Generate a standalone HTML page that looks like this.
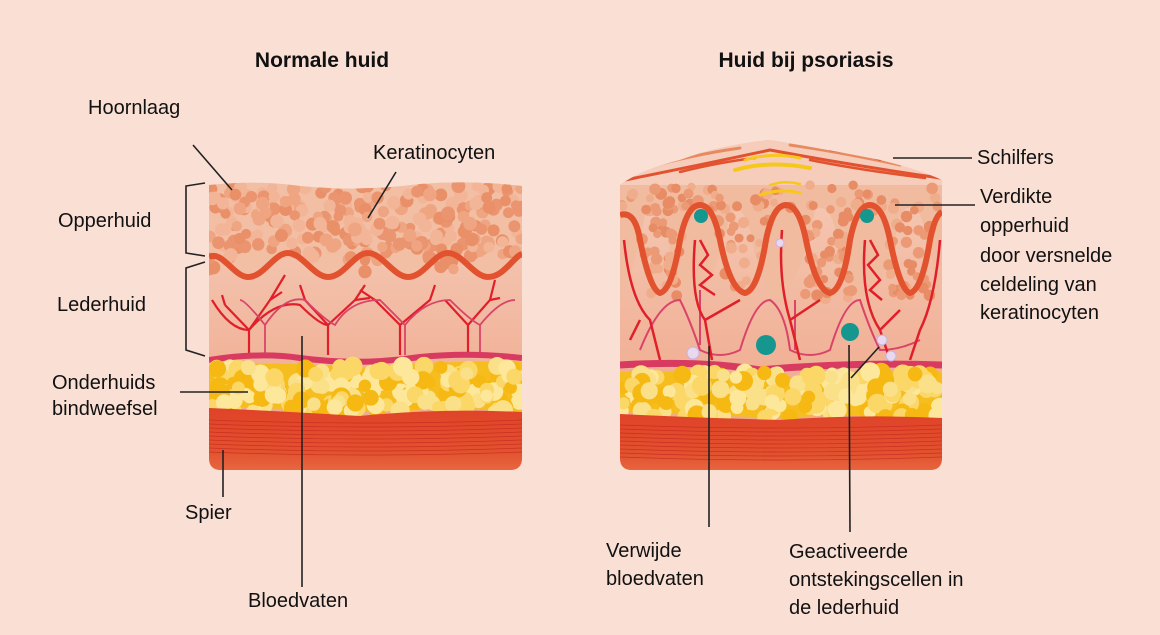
<!DOCTYPE html>
<html><head><meta charset="utf-8">
<style>
html,body{margin:0;padding:0;background:#f9dfd4;}
svg{display:block;}
text{font-family:"Liberation Sans",sans-serif;fill:#111;font-size:20px;}
.b{font-weight:bold;font-size:21px;}
</style></head><body>
<svg id="s" width="1160" height="635" viewBox="0 0 1160 635" xmlns="http://www.w3.org/2000/svg">
<defs>
<linearGradient id="derm" x1="0" y1="0" x2="0" y2="1">
<stop offset="0" stop-color="#f6cfbd"/><stop offset="1" stop-color="#eea283"/></linearGradient>
<linearGradient id="mus" x1="0" y1="0" x2="0" y2="1">
<stop offset="0" stop-color="#e04328"/><stop offset="0.6" stop-color="#e2522f"/><stop offset="1" stop-color="#ea7048"/></linearGradient>
<clipPath id="cl"><path d="M209 185 Q260 180 300 186 Q360 192 420 184 Q470 180 522 186 L522 458 Q522 470 510 470 L221 470 Q209 470 209 458 Z"/></clipPath>
<clipPath id="cr"><path d="M620 185 Q640 170 680 160 Q720 145 770 140 Q830 150 880 160 Q920 170 942 180 L942 458 Q942 470 930 470 L632 470 Q620 470 620 458 Z"/></clipPath>
</defs>
<rect width="1160" height="635" fill="#f9dfd4"/>

<!-- LEFT -->
<g clip-path="url(#cl)">
<rect x="200" y="170" width="330" height="310" fill="url(#derm)"/>
<path d="M209 180 L522 180 L522 258 L209 258 Z" fill="#f2bfa5"/>
<path d="M209 257 C222 250 234 277 248 277 C264 277 274 253 288 253 C302 253 314 277 328 277 C344 277 354 253 368 253 C382 253 394 277 408 277 C424 277 434 253 448 253 C462 253 474 277 488 277 C504 277 514 256 522 254 L522 250 L209 250 Z" fill="#f2bfa5"/>
<g id="lcells"></g>
<path d="M209 257 C222 250 234 277 248 277 C264 277 274 253 288 253 C302 253 314 277 328 277 C344 277 354 253 368 253 C382 253 394 277 408 277 C424 277 434 253 448 253 C462 253 474 277 488 277 C504 277 514 256 522 254" fill="none" stroke="#e2522f" stroke-width="6"/>
<g fill="none" stroke="#e01f2a" stroke-width="2.2">
<path d="M249 355 L249 330 L225 305 M249 330 L270 300 L285 275 M270 300 L282 292 M225 305 L222 295"/>
<path d="M328 355 L328 325 L305 300 L300 285 M328 325 L355 300 L365 285 M355 300 L370 298"/>
<path d="M400 355 L400 325 L375 300 L360 290 M400 325 L430 300 L435 285"/>
<path d="M468 355 L468 325 L445 300 M468 325 L490 300 L495 280 M490 300 L500 298"/>
<path d="M212 300 Q230 330 249 330 Q275 300 300 305 Q320 325 328 325"/>
</g>
<g fill="none" stroke="#d94468" stroke-width="1.8">
<path d="M265 355 L265 325 Q245 300 240 300 M265 325 Q285 295 305 300 Q325 320 335 325 Q350 300 380 300 Q400 320 405 325 L405 355 M405 325 Q425 300 450 300 Q470 320 480 325 L480 355 M480 325 Q500 300 515 300"/>
</g>
<path d="M209 360 Q260 352 300 358 Q360 366 420 357 Q470 352 522 358" fill="none" stroke="#d83a60" stroke-width="6"/>
<path d="M209 364 Q300 362 360 368 Q440 360 522 362 L522 412 Q460 405 400 412 Q300 410 209 406 Z" fill="#f6bd1f"/>
<g id="lfat"></g>
<path d="M209 408 Q300 412 360 416 Q440 408 522 412 L522 480 L209 480 Z" fill="url(#mus)"/>
<g id="lmus" fill="none" stroke="#c8281e" stroke-width="0.8" opacity="0.8"></g>
</g>

<!-- RIGHT -->
<g clip-path="url(#cr)">
<rect x="610" y="130" width="340" height="350" fill="url(#derm)"/>
<path d="M610 130 L950 130 L950 300 L938 300 Q930 240 920 215 Q910 200 900 215 Q885 290 863 300 Q845 290 838 240 Q830 200 815 210 Q800 285 778 300 Q760 285 752 240 Q745 200 730 215 Q715 285 693 300 Q675 285 668 240 Q660 200 645 215 Q635 270 620 300 L610 300 Z" fill="#f1bba0"/>
<rect x="610" y="130" width="340" height="55" fill="#f6cdbb"/>
<g id="rcells"></g>
<g fill="none" stroke-linecap="round">
<path d="M625 180 Q700 165 770 150 Q850 165 940 178" stroke="#e2522f" stroke-width="3"/>
<path d="M630 172 Q690 155 740 148" stroke="#e88a60" stroke-width="3"/>
<path d="M660 162 Q700 150 740 142" stroke="#e88a60" stroke-width="2.5"/>
<path d="M790 145 Q840 152 900 165" stroke="#e88a60" stroke-width="3"/>
<path d="M810 160 Q860 170 925 178" stroke="#e2522f" stroke-width="2.5"/>
<path d="M680 172 Q720 162 755 158" stroke="#e2522f" stroke-width="2.5"/>
<path d="M830 150 Q870 155 880 160" stroke="#e2522f" stroke-width="2"/>
<path d="M735 170 Q770 160 810 168" stroke="#f7c81c" stroke-width="4"/>
<path d="M745 160 Q770 152 800 158" stroke="#f7c81c" stroke-width="3"/>
<path d="M760 195 Q780 188 800 193" stroke="#f7c81c" stroke-width="3"/>
<path d="M770 185 Q785 180 800 184" stroke="#f7c81c" stroke-width="2.5"/>
</g>
<path d="M620 215 Q635 210 640 240 Q650 290 660 293 Q672 290 680 240 Q687 205 700 205 Q713 205 720 240 Q730 290 745 293 Q758 290 766 240 Q773 205 786 205 Q799 205 806 240 Q816 290 830 293 Q843 290 850 240 Q857 205 870 205 Q883 205 890 240 Q900 290 910 293 Q922 290 930 240 Q935 215 942 212" fill="none" stroke="#e2522f" stroke-width="6"/>
<g fill="none" stroke="#d94468" stroke-width="2">
<path d="M640 350 Q660 300 680 300 Q690 320 700 350 Q720 360 740 350 Q755 300 770 300 Q785 310 790 350 Q810 360 830 350 Q845 300 860 300 Q870 330 880 350 Q900 350 920 340"/>
<path d="M700 290 L700 345 M795 350 L795 300"/>
</g>
<g fill="none" stroke="#e01f2a" stroke-width="2.5">
<path d="M624 240 Q630 300 650 320 L660 360 M640 320 L630 340"/>
<path d="M695 240 Q690 300 705 320 L712 360 M705 320 L740 300 M700 240 L708 255 L700 265 L712 275 L700 285 L715 295"/>
<path d="M782 230 Q778 280 790 320 L800 360 M790 320 L820 300"/>
<path d="M865 240 Q860 300 880 330 L890 360 M880 330 L900 310 M870 240 L878 255 L868 265 L880 280 L870 290 L882 300"/>
<path d="M940 240 Q935 300 920 330 L910 360"/>
</g>
<path d="M620 365 Q700 360 760 370 Q850 362 942 365" fill="none" stroke="#d83a60" stroke-width="7"/>
<path d="M620 372 Q700 370 780 378 Q860 370 942 372 L942 418 Q870 412 780 418 Q700 415 620 412 Z" fill="#f6bd1f"/>
<g id="rfat"></g>
<path d="M620 414 Q700 418 780 420 Q860 414 942 418 L942 480 L620 480 Z" fill="url(#mus)"/>
<g id="rmus" fill="none" stroke="#c8281e" stroke-width="0.8" opacity="0.8"></g>
<g fill="#15968f">
<circle cx="701" cy="216" r="7"/><circle cx="867" cy="216" r="7"/><circle cx="766" cy="345" r="10"/><circle cx="850" cy="332" r="9"/>
</g>
<g fill="#e9d8ee" stroke="#c7b3e0"><circle cx="693" cy="353" r="6"/><circle cx="882" cy="340" r="5"/><circle cx="891" cy="356" r="5"/><circle cx="780" cy="243" r="4"/></g>
</g>

<!-- labels -->
<text class="b" x="322" y="67" text-anchor="middle">Normale huid</text>
<text class="b" x="806" y="67" text-anchor="middle">Huid bij psoriasis</text>
<text x="88" y="114">Hoornlaag</text>
<text x="373" y="159">Keratinocyten</text>
<text x="58" y="227">Opperhuid</text>
<text x="57" y="311">Lederhuid</text>
<text x="52" y="389">Onderhuids</text>
<text x="52" y="415">bindweefsel</text>
<text x="185" y="519">Spier</text>
<text x="248" y="607">Bloedvaten</text>
<text x="977" y="164">Schilfers</text>
<text x="980" y="203">Verdikte</text>
<text x="980" y="232">opperhuid</text>
<text x="980" y="262">door versnelde</text>
<text x="980" y="291">celdeling van</text>
<text x="980" y="319">keratinocyten</text>
<text x="606" y="557">Verwijde</text>
<text x="606" y="585">bloedvaten</text>
<text x="789" y="558">Geactiveerde</text>
<text x="789" y="586">ontstekingscellen in</text>
<text x="789" y="614">de lederhuid</text>

<g stroke="#222" stroke-width="1.6" fill="none">
<path d="M193 145 L232 190"/>
<path d="M396 172 L368 218"/>
<path d="M205 183 L186 186 L186 253 L205 256"/>
<path d="M205 262 L186 268 L186 350 L205 356"/>
<path d="M180 392 L248 392"/>
<path d="M223 450 L223 497"/>
<path d="M302 336 L302 587"/>
<path d="M893 158 L972 158"/>
<path d="M895 205 L975 205"/>
<path d="M709 346 L709 527"/>
<path d="M849 345 L850 532"/>
<path d="M879 347 L851 378"/>
</g>
</svg>
<script>
(function(){
var s=7;function r(){s=(s*16807)%2147483647;return s/2147483647;}
var NS="http://www.w3.org/2000/svg";
function c(g,x,y,rr,f){var e=document.createElementNS(NS,"circle");e.setAttribute("cx",x);e.setAttribute("cy",y);e.setAttribute("r",rr);e.setAttribute("fill",f);g.appendChild(e);}
function cells(id,x0,x1,y0,y1,n,cols,rad,fn){var g=document.getElementById(id);for(var i=0;i<n;i++){var x=x0+r()*(x1-x0),y=y0+r()*(y1-y0);if(fn&&!fn(x,y))continue;c(g,x,y,rad[0]+r()*(rad[1]-rad[0]),cols[Math.floor(r()*cols.length)]);}}
cells("lcells",209,522,185,285,360,["#eb9570","#efa582","#f3b597","#e99068"],[5,7],function(x,y){var b=265-12*Math.cos((x-248)*2*Math.PI/80);return y<b-4;});
cells("rcells",620,942,185,300,300,["#eb9a75","#f0ad8c","#e88c66"],[4,6],function(x,y){var p=[700,786,870];for(var i=0;i<p.length;i++){if(Math.abs(x-p[i])<18&&y>212)return false;}if((x<640||x>932)&&y>215)return false;return true;});
var fc=["#fde79a","#fbd768","#f6b913","#fbe08a"];
cells("lfat",209,522,366,412,170,fc,[6,10]);
cells("rfat",620,942,372,418,170,fc,[6,10]);
function mus(id,x0,x1,y0,n){var g=document.getElementById(id);for(var i=0;i<n;i++){var y=y0+i*4;var p=document.createElementNS(NS,"path");p.setAttribute("d","M"+x0+" "+y+" Q"+((x0+x1)/2)+" "+(y+6)+" "+x1+" "+y);g.appendChild(p);}}
mus("lmus",209,522,420,9);mus("rmus",620,942,425,9);
})();
</script>
</body></html>
